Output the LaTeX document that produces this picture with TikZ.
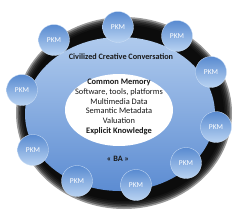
\documentclass[tikz,border=0pt]{standalone}
\usepackage{fontspec}
\setmainfont{Carlito}
\usetikzlibrary{shapes.geometric}
\definecolor{batop}{RGB}{175,202,237}
\definecolor{babottom}{RGB}{92,140,210}
\definecolor{pkmtop}{RGB}{88,138,208}
\definecolor{pkmbottom}{RGB}{185,211,242}
\tikzset{
    baring/.style={fill=black, opacity=0.4},
    baspace/.style={ellipse, minimum width=190pt, minimum height=154pt, inner sep=0pt, top color=batop, bottom color=babottom},
    bamemory/.style={ellipse, fill=white, minimum width=108pt, minimum height=72pt, inner sep=0pt},
    batext/.style={font=\fontsize{8.4}{9.8}\selectfont, align=center, text=black!90},
    bapkm/.style={circle, minimum size=31pt, inner sep=0pt, top color=pkmtop, bottom color=pkmbottom, draw=pkmbottom!70!white, line width=0.3pt, text=white, font=\fontsize{7.5}{9}\selectfont}
}

\begin{document}
\begin{tikzpicture}[x=1pt, y=-1pt]
  \useasboundingbox (0,0) rectangle (238,215);
  % dark ring with soft edge
  \foreach \d in {0,...,5}
    \fill[baring] (124,113) ellipse [x radius=100+1.6*\d, y radius=88+1.6*\d];
  \node[baspace]  (ba)  at (120,114) {};
  \node[bamemory] (mem) at (119,110) {};
  \node[batext, font=\bfseries\fontsize{8.2}{9.8}\selectfont] (conv) at (121,57) {Civilized Creative Conversation};
  \node[batext] (memtext) at (119,107) {\textbf{Common Memory}\\Software, tools, platforms\\Multimedia Data\\Semantic Metadata\\Valuation\\\textbf{Explicit Knowledge}};
  \node[batext, font=\bfseries\fontsize{8.2}{9.8}\selectfont] (balabel) at (118,159) {« BA »};
  % PKM circles round the ring
  \foreach \px/\py [count=\i] in {118/27, 177/36, 211/72, 216/127, 186/163, 136/185, 77/181, 33/150, 22/90, 54/40}
    \node[bapkm] (pkm\i) at (\px,\py) {PKM};
\end{tikzpicture}
\end{document}
